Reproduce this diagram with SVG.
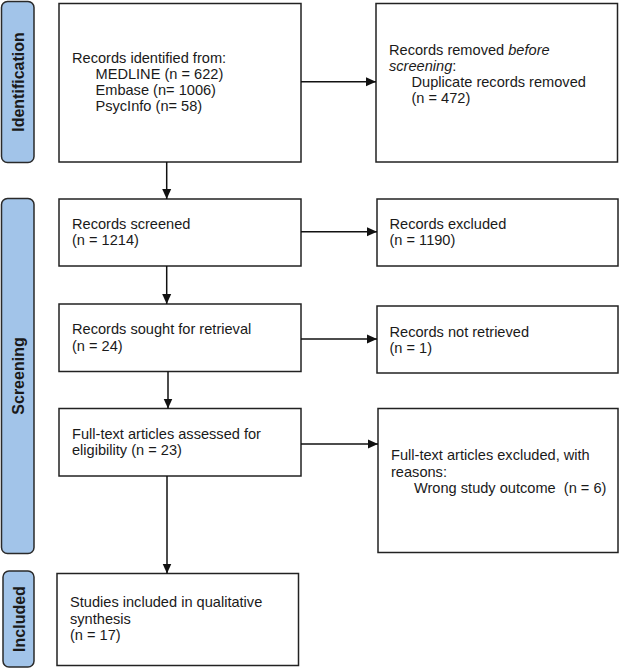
<svg xmlns="http://www.w3.org/2000/svg" width="620" height="669" viewBox="0 0 620 669">
<defs>
<style>
.box{fill:#fff;stroke:#222;stroke-width:1.5}
.side{fill:#a2c4e9;stroke:#2a2a2a;stroke-width:1.5}
.t{font-family:"Liberation Sans",Arial,sans-serif;font-size:14.6px;fill:#1a1a1a}
.s{font-family:"Liberation Sans",Arial,sans-serif;font-size:16px;font-weight:bold;fill:#1a1a1a}
.c{stroke:#111;stroke-width:1.5;fill:none}
</style>
<marker id="ah" markerWidth="10" markerHeight="10" viewBox="0 0 10 10" refX="10" refY="5" orient="auto" markerUnits="userSpaceOnUse">
<path d="M0,0.5 L10,5 L0,9.5 Z" fill="#111"/>
</marker>
</defs>
<rect width="620" height="669" fill="#fff"/>
<g id="side-identification">
<rect class="side" x="1.5" y="1.5" width="32.5" height="161" rx="6"/>
<text class="s" transform="translate(24,82) rotate(-90)" text-anchor="middle">Identification</text>
</g>
<g id="side-screening">
<rect class="side" x="1.5" y="198.5" width="32.5" height="355" rx="6"/>
<text class="s" transform="translate(24,376) rotate(-90)" text-anchor="middle">Screening</text>
</g>
<g id="side-included">
<rect class="side" x="3" y="571" width="31" height="96" rx="6"/>
<text class="s" transform="translate(24.5,619) rotate(-90)" text-anchor="middle">Included</text>
</g>
<g id="identified">
<rect class="box" x="59" y="3.5" width="242" height="158.5"/>
<text class="t" x="72" y="62.5">Records identified from:</text>
<text class="t" x="95.5" y="78.5">MEDLINE (n = 622)</text>
<text class="t" x="95.5" y="94.5">Embase (n= 1006)</text>
<text class="t" x="95.5" y="110.5">PsycInfo (n= 58)</text>
</g>
<g id="removed">
<rect class="box" x="376" y="3.5" width="241.5" height="158.5"/>
<text class="t" x="389" y="54.5">Records removed <tspan font-style="italic">before</tspan></text>
<text class="t" x="389" y="70.5"><tspan font-style="italic">screening</tspan>:</text>
<text class="t" x="411.5" y="86.5">Duplicate records removed</text>
<text class="t" x="411.5" y="102.5">(n = 472)</text>
</g>
<g id="screened">
<rect class="box" x="59" y="199" width="242" height="67"/>
<text class="t" x="72" y="228.5">Records screened</text>
<text class="t" x="72" y="245">(n = 1214)</text>
</g>
<g id="excluded">
<rect class="box" x="377" y="199" width="241" height="67"/>
<text class="t" x="389.5" y="228.5">Records excluded</text>
<text class="t" x="389.5" y="245">(n = 1190)</text>
</g>
<g id="sought">
<rect class="box" x="59" y="304" width="242" height="67.5"/>
<text class="t" x="72" y="334">Records sought for retrieval</text>
<text class="t" x="72" y="350.5">(n = 24)</text>
</g>
<g id="not-retrieved">
<rect class="box" x="377" y="306" width="241" height="67"/>
<text class="t" x="389.5" y="336.5">Records not retrieved</text>
<text class="t" x="389.5" y="353">(n = 1)</text>
</g>
<g id="assessed">
<rect class="box" x="59" y="408.5" width="242" height="67.5"/>
<text class="t" x="72" y="438.5">Full-text articles assessed for</text>
<text class="t" x="72" y="455">eligibility (n = 23)</text>
</g>
<g id="ft-excluded">
<rect class="box" x="378" y="408.5" width="240" height="144"/>
<text class="t" x="391" y="460">Full-text articles excluded, with</text>
<text class="t" x="391" y="476.5">reasons:</text>
<text class="t" x="414" y="493" xml:space="preserve">Wrong study outcome  (n = 6)</text>
</g>
<g id="included">
<rect class="box" x="57" y="573.5" width="241.5" height="92"/>
<text class="t" x="70" y="607">Studies included in qualitative</text>
<text class="t" x="70" y="623.5">synthesis</text>
<text class="t" x="70" y="640">(n = 17)</text>
</g>
<g id="connectors">
<line class="c" x1="301" y1="81.7" x2="376" y2="81.7" marker-end="url(#ah)"/>
<line class="c" x1="166.7" y1="162" x2="166.7" y2="199" marker-end="url(#ah)"/>
<line class="c" x1="301" y1="231.7" x2="377" y2="231.7" marker-end="url(#ah)"/>
<line class="c" x1="166.7" y1="266" x2="166.7" y2="304" marker-end="url(#ah)"/>
<line class="c" x1="301" y1="339" x2="377" y2="339" marker-end="url(#ah)"/>
<line class="c" x1="168" y1="371.5" x2="168" y2="408.5" marker-end="url(#ah)"/>
<line class="c" x1="301" y1="444" x2="378" y2="444" marker-end="url(#ah)"/>
<line class="c" x1="167" y1="476" x2="167" y2="573.5" marker-end="url(#ah)"/>
</g>
</svg>
